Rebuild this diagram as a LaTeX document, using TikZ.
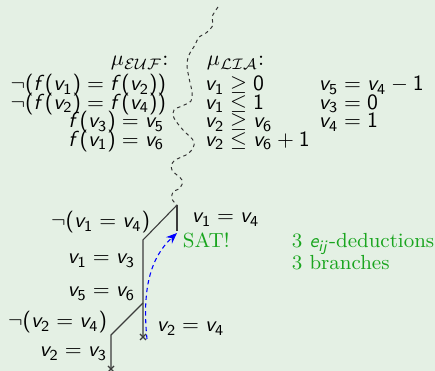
\documentclass[tikz,border=0pt]{standalone}
\usetikzlibrary{arrows.meta}
\DeclareSymbolFont{sfslant}{OT1}{cmss}{m}{sl}
\DeclareSymbolFont{sfup}{OT1}{cmss}{m}{n}
\DeclareMathSymbol{v}{\mathalpha}{sfslant}{`v}
\DeclareMathSymbol{f}{\mathalpha}{sfslant}{`f}
\DeclareMathSymbol{e}{\mathalpha}{sfslant}{`e}
\DeclareMathSymbol{i}{\mathalpha}{sfslant}{`i}
\DeclareMathSymbol{j}{\mathalpha}{sfslant}{`j}
\DeclareMathSymbol{0}{\mathalpha}{sfup}{`0}
\DeclareMathSymbol{1}{\mathalpha}{sfup}{`1}
\DeclareMathSymbol{2}{\mathalpha}{sfup}{`2}
\DeclareMathSymbol{3}{\mathalpha}{sfup}{`3}
\DeclareMathSymbol{4}{\mathalpha}{sfup}{`4}
\DeclareMathSymbol{5}{\mathalpha}{sfup}{`5}
\DeclareMathSymbol{6}{\mathalpha}{sfup}{`6}
\DeclareMathSymbol{(}{\mathopen}{sfup}{`(}
\DeclareMathSymbol{)}{\mathclose}{sfup}{`)}
\definecolor{bg}{RGB}{228,240,228}
\definecolor{satgreen}{RGB}{25,165,30}
\definecolor{linegray}{RGB}{60,60,60}
\begin{document}
\begin{tikzpicture}[x=0.46pt,y=-0.46pt,
  every node/.style={inner sep=0pt, outer sep=0pt},
  rl/.style={anchor=base east},
  ll/.style={anchor=base west},
  branch/.style={draw=linegray, line width=0.5pt},
  wavy/.style={draw=black!80, dashed, dash pattern=on 1.6pt off 1.6pt, line width=0.45pt},
  satc/.style={text=satgreen, font=\rmfamily\fontsize{9.4}{11}\selectfont},
  back/.style={draw=blue, dashed, dash pattern=on 2pt off 1.6pt, line width=0.5pt, -{Stealth[length=5pt,width=4pt]}},
  crossmark/.style={draw=linegray, line width=0.5pt}]
\fill[bg] (0,0) rectangle (435,371);
\useasboundingbox (0,0) rectangle (435,371);
% headers
\node[ll] (muE) at (111,66) {$\mu_{\mathcal{EUF}}$:};
\node[ll] (muL) at (207,66) {$\mu_{\mathcal{LIA}}$:};
% EUF column
\node[rl] (e1) at (166,91) {$\neg(f(v_1)=f(v_2))$};
\node[rl] (e2) at (166,109.5) {$\neg(f(v_2)=f(v_4))$};
\node[rl] (e3) at (164,128) {$f(v_3)=v_5$};
\node[rl] (e4) at (164,146.5) {$f(v_1)=v_6$};
% LIA columns
\node[ll] (l1) at (205,91) {$v_1\geq 0$};
\node[ll] (l2) at (205,109.5) {$v_1\leq 1$};
\node[ll] (l3) at (205,128) {$v_2\geq v_6$};
\node[ll] (l4) at (205,146.5) {$v_2\leq v_6+1$};
\node[ll] (m1) at (319,91) {$v_5=v_4-1$};
\node[ll] (m2) at (319,109.5) {$v_3=0$};
\node[ll] (m3) at (319,128) {$v_4=1$};
% wavy separator
\coordinate (wtop) at (218,7);
\coordinate (t0) at (177,205);
\draw[wavy] plot[smooth, tension=0.6] coordinates {(218,7) (212,17) (213,25) (206,33) (199,37) (195,45) (189,55) (187,65) (189,78) (192,92) (191,101) (182,106) (174,110) (174,118) (183,130) (194,142) (189,153) (174,161) (172,170) (182,180) (180,188) (173,192) (172,199) (177,205)};
% tree
\coordinate (t1) at (177,231);
\coordinate (a1) at (143,240);
\coordinate (a2) at (143,303);
\coordinate (a3) at (143,337);
\coordinate (b1) at (111,335);
\coordinate (b2) at (111,369);
\draw[branch] (t0) -- (t1);
\draw[branch] (t0) -- (a1) -- (a3);
\draw[branch] (a2) -- (b1) -- (b2);
\draw[crossmark] ([shift={(-3,-3)}]a3) -- ([shift={(3,3)}]a3) ([shift={(3,-3)}]a3) -- ([shift={(-3,3)}]a3);
\draw[crossmark] ([shift={(-3,-3)}]b2) -- ([shift={(3,3)}]b2) ([shift={(3,-3)}]b2) -- ([shift={(-3,3)}]b2);
% branch labels
\node[rl] (n14) at (150,228) {$\neg(v_1=v_4)$};
\node[ll] (p14) at (192,223) {$v_1=v_4$};
\node[rl] (p13) at (135,264) {$v_1=v_3$};
\node[rl] (p56) at (135,297) {$v_5=v_6$};
\node[rl] (n24) at (107,328) {$\neg(v_2=v_4)$};
\node[ll] (p24) at (157,332) {$v_2=v_4$};
\node[rl] (p23) at (107,357) {$v_2=v_3$};
% SAT
\node[ll, satc] (sat) at (183,248) {SAT!};
\coordinate (bs) at (147,339);
\coordinate (be) at (177,233);
\draw[back] (bs) .. controls (142,290) and (150,258) .. (be);
\node[ll, satc] (ded) at (292,248) {3 $e_{ij}$-deductions};
\node[ll, satc] (br) at (292,270) {3 branches};
\end{tikzpicture}
\end{document}
